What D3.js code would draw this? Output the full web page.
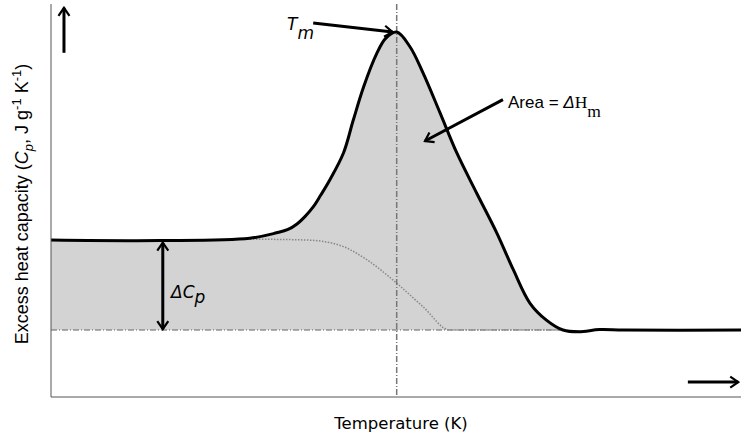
<!DOCTYPE html>
<html lang="en">
<head>
  <meta charset="UTF-8">
  <title>Excess heat capacity thermogram</title>
  <script src="https://d3js.org/d3.v7.min.js"></script>
  <style>
    body { margin: 0; background: #fff; }
    svg { display: block; }
    .sans { font-family: "Liberation Sans", Arial, sans-serif; }
    .dv { font-family: "DejaVu Sans", Verdana, sans-serif; }
    .serif { font-family: "Liberation Serif", "Times New Roman", serif; }
  </style>
</head>
<body>
  <svg width="745" height="436"></svg>

  <script>
    const width = 745, height = 436;
    const svg = d3.select("svg");

    // thermogram (arbitrary T units, Cp relative to baseline)
    const temps = [0, 15.8, 28.8, 32.7, 34.35, 35.65, 36.8, 38.0, 39.1, 40.4, 42.4, 43.8, 45.3, 47.2, 48.5, 50.1,
                   52.0, 53.9, 56.4, 58.8, 61.7, 64.6, 67.0, 69.4, 71.8, 74.2, 76.5, 79.5, 83.0, 100];
    const cpValues = [1.0, 0.994, 1.02, 1.08, 1.117, 1.178, 1.26, 1.367, 1.5, 1.667, 1.97, 2.33, 2.70, 3.07, 3.24, 3.31,
                      3.15, 2.86, 2.41, 1.97, 1.52, 1.08, 0.67, 0.30, 0.11, 0.0, -0.02, 0.005, 0.0, 0.0];
    // progress baseline (dotted)
    const baseTemps = [28.4, 37.1, 41.9, 45.8, 50.1, 53.9, 57.8, 74.5];
    const baseValues = [1.01, 1.0, 0.94, 0.78, 0.52, 0.26, 0.0, 0.0];
    const tm = 50.1;

    const x = d3.scaleLinear().domain([0, 100]).range([51, 741]);
    const y = d3.scaleLinear().domain([-0.744, 3.622]).range([397, 4]);

    const curve = temps.map((t, i) => ({ t, v: cpValues[i] }));
    const base = baseTemps.map((t, i) => ({ t, v: baseValues[i] }));
    const smooth = d3.curveCatmullRom.alpha(0.5);

    const defs = svg.append("defs");
    defs.append("marker")
      .attr("id", "head")
      .attr("viewBox", "-10 -7 12 14")
      .attr("refX", 0).attr("refY", 0)
      .attr("markerWidth", 12).attr("markerHeight", 14)
      .attr("markerUnits", "userSpaceOnUse")
      .attr("orient", "auto-start-reverse")
      .append("path")
      .attr("d", "M-8,-5.5 L0,0 L-8,5.5")
      .attr("fill", "none")
      .attr("stroke", "#000")
      .attr("stroke-width", 2.2);

    // shaded area
    svg.append("path")
      .datum(curve)
      .attr("fill", "#d3d3d3")
      .attr("d", d3.area().x(d => x(d.t)).y0(y(0)).y1(d => y(d.v)).curve(smooth));

    // zero baseline
    svg.append("line")
      .attr("x1", x(0)).attr("x2", x(74.5))
      .attr("y1", y(0)).attr("y2", y(0))
      .attr("stroke", "#666").attr("stroke-width", 1)
      .attr("stroke-dasharray", "6,2,1,2");

    // dotted progress baseline
    svg.append("path")
      .datum(base)
      .attr("fill", "none")
      .attr("stroke", "#888")
      .attr("stroke-width", 1.5)
      .attr("stroke-dasharray", "1.5,1.5")
      .attr("d", d3.line().x(d => x(d.t)).y(d => y(d.v)).curve(d3.curveMonotoneX));

    // Tm line
    svg.append("line")
      .attr("x1", x(tm)).attr("x2", x(tm))
      .attr("y1", y.range()[1]).attr("y2", y.range()[0])
      .attr("stroke", "#777").attr("stroke-width", 1.5)
      .attr("stroke-dasharray", "6,2,1,2");

    // thermogram curve
    svg.append("path")
      .datum(curve)
      .attr("fill", "none")
      .attr("stroke", "#000")
      .attr("stroke-width", 3)
      .attr("d", d3.line().x(d => x(d.t)).y(d => y(d.v)).curve(smooth));

    // axes (plain lines, no ticks)
    svg.append("line")
      .attr("x1", x(0)).attr("x2", x(0))
      .attr("y1", y.range()[1]).attr("y2", y.range()[0])
      .attr("stroke", "#555").attr("stroke-width", 1);
    svg.append("line")
      .attr("x1", x(0)).attr("x2", x(100))
      .attr("y1", y.range()[0]).attr("y2", y.range()[0])
      .attr("stroke", "#555").attr("stroke-width", 1);

    function arrow(t1, v1, t2, v2, both) {
      const l = svg.append("line")
        .attr("x1", x(t1)).attr("y1", y(v1))
        .attr("x2", x(t2)).attr("y2", y(v2))
        .attr("stroke", "#000").attr("stroke-width", 3)
        .attr("marker-end", "url(#head)");
      if (both) l.attr("marker-start", "url(#head)");
    }

    arrow(1.88, 3.08, 1.88, 3.58);        // up arrow
    arrow(92.3, -0.578, 99.6, -0.578);    // right arrow
    arrow(16.2, 0.97, 16.2, 0.01, true);  // delta Cp
    arrow(38.0, 3.41, 49.5, 3.31);        // Tm pointer
    arrow(65.5, 2.56, 54.2, 2.10);        // area pointer

    // labels
    svg.append("text")
      .attr("class", "sans")
      .attr("transform", `translate(28,${y(1.4)}) rotate(-90)`)
      .attr("text-anchor", "middle")
      .attr("font-size", 18)
      .html('Excess heat capacity (<tspan font-style="italic">C</tspan><tspan font-style="italic" font-size="13" dy="5">p</tspan><tspan dy="-5">, J g</tspan><tspan font-size="13" dy="-7">-1</tspan><tspan dy="7"> K</tspan><tspan font-size="13" dy="-7">-1</tspan><tspan dy="7">)</tspan>');

    svg.append("text")
      .attr("class", "dv")
      .attr("x", 401).attr("y", 429)
      .attr("text-anchor", "middle")
      .attr("font-size", 16.5)
      .text("Temperature (K)");

    svg.append("text")
      .attr("class", "dv")
      .attr("x", 287).attr("y", 30)
      .attr("font-size", 17)
      .attr("font-style", "italic")
      .html('T<tspan dy="9">m</tspan>');

    svg.append("text")
      .attr("class", "dv")
      .attr("x", 171).attr("y", 298)
      .attr("font-size", 17)
      .attr("font-style", "italic")
      .html('ΔC<tspan dy="5">p</tspan>');

    const areaLbl = svg.append("text")
      .attr("x", 508).attr("y", 108)
      .attr("font-size", 17);
    areaLbl.append("tspan").attr("class", "sans").text("Area = ");
    areaLbl.append("tspan").attr("class", "sans").attr("font-style", "italic").text("Δ");
    areaLbl.append("tspan").attr("class", "serif").attr("font-size", 17.5).text("H");
    areaLbl.append("tspan").attr("class", "serif").attr("font-size", 17.5).attr("dy", 9).text("m");
  </script>
</body>
</html>
